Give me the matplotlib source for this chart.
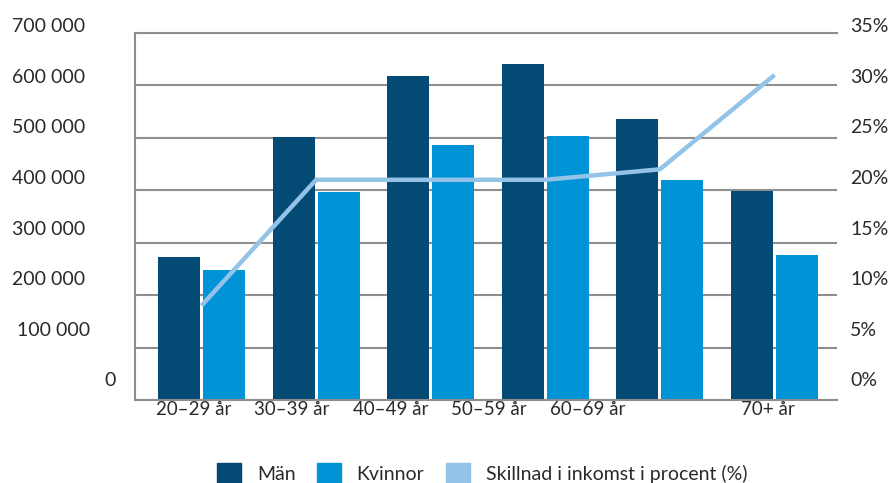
import matplotlib
matplotlib.use('Agg')
import matplotlib.pyplot as plt
import numpy as np
from matplotlib.patches import Patch

plt.rcParams['font.family'] = ['Lato', 'DejaVu Sans']

# data
groups = ['20–29 år', '30–39 år', '40–49 år', '50–59 år', '60–69 år', '70+ år']
man = [273000, 502000, 618000, 641000, 536000, 399000]
kvinnor = [248000, 397000, 486000, 503000, 420000, 277000]
skillnad = [9, 21, 21, 21, 22, 31]
left_ticks = [0, 100000, 200000, 300000, 400000, 500000, 600000, 700000]
right_ticks = [0, 5, 10, 15, 20, 25, 30, 35]

c_man = '#034b74'
c_kv = '#0093d6'
c_line = '#94c3e8'
c_grid = '#8e8e8e'
c_text = '#2a2a2a'

fig = plt.figure(figsize=(8.93, 4.83), dpi=100)
ax = fig.add_axes([135/893, 1-400/483, 702/893, 367/483])

x = np.arange(len(groups))
w = 0.366
off = 0.196
ax.bar(x - off, man, w, color=c_man, zorder=2)
ax.bar(x + off, kvinnor, w, color=c_kv, zorder=2)

ax.set_xlim(-0.58, 5.545)
ax.set_ylim(0, 700000)
ax.set_yticks(left_ticks)
ax.yaxis.grid(True, color=c_grid, lw=1.5)
ax.set_axisbelow(True)
ax.tick_params(axis='y', length=0, labelleft=False)

# x labels sit a bit off the groups in the original
xlabel_pos = [-0.07, 0.79, 1.65, 2.51, 3.37, 4.94]
ax.set_xticks(xlabel_pos)
ax.set_xticklabels(groups, fontsize=13.5, color=c_text)
ax.tick_params(axis='x', length=0, pad=0.5)

for s in ['left', 'bottom', 'top']:
    ax.spines[s].set_color(c_grid)
    ax.spines[s].set_linewidth(1.5)
ax.spines['right'].set_visible(False)

# y labels, evenly spaced and a little above the gridlines
n = len(left_ticks)
for i, v in enumerate(left_ticks):
    yf = 0.052 + i * 0.965 / (n - 1)
    xr = -0.0712
    if v == 0:
        xr = (116 - 135) / 702
    elif v == 100000:
        xr = (90 - 135) / 702
    lab = '0' if v == 0 else '{:,}'.format(v).replace(',', ' ')
    ax.text(xr, yf, lab, transform=ax.transAxes, ha='right', va='center',
            fontsize=14, color=c_text)

ax2 = ax.twinx()
ax2.set_ylim(0, 35)
ax2.plot(x, skillnad, color=c_line, lw=3.2, solid_capstyle='butt',
         solid_joinstyle='miter', zorder=3)
ax2.set_yticks([])
for s in ax2.spines.values():
    s.set_visible(False)
for i, v in enumerate(right_ticks):
    yf = 0.052 + i * 0.965 / (len(right_ticks) - 1)
    ax2.text(1.0185, yf, '{}%'.format(v), transform=ax2.transAxes, ha='left',
             va='center', fontsize=14, color=c_text)

handles = [Patch(color=c_man, label='Män'),
           Patch(color=c_kv, label='Kvinnor'),
           Patch(color=c_line, label='Skillnad i inkomst i procent (%)')]
fig.legend(handles=handles, loc='upper left', bbox_to_anchor=(217/893, 1-463/483),
           ncol=3, frameon=False, fontsize=14, handlelength=1.25, handleheight=1.25,
           handletextpad=0.8, columnspacing=1.1, borderpad=0, borderaxespad=0,
           labelcolor=c_text)

fig.savefig('out.png', dpi=100)
